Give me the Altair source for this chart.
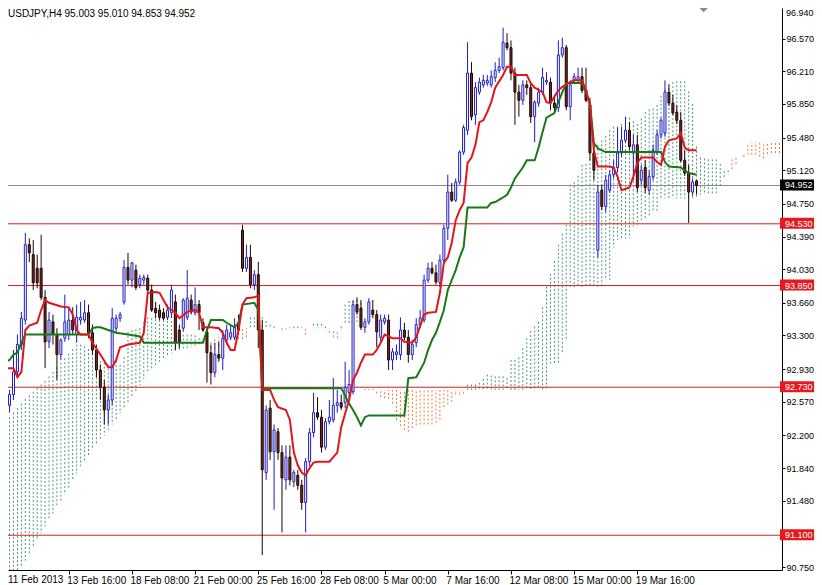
import altair as alt
import pandas as pd

# ---------------- data ----------------
title_text = "USDJPY,H4  95.003 95.010 94.853 94.952"

opens = [92.72, 92.53, 92.65, 92.90, 93.20, 93.47, 94.30, 94.19, 94.04, 94.04,
         93.72, 93.23, 93.45, 93.31, 93.09, 93.27, 93.31, 93.47, 93.31, 93.47,
         93.47, 93.55, 93.33, 93.14, 92.92, 92.73, 92.48, 92.59, 93.38, 93.49,
         93.67, 94.05, 93.91, 94.02, 93.86, 93.91, 93.93, 93.80, 93.60, 93.58,
         93.55, 93.50, 93.55, 93.67, 93.36, 93.38, 93.50, 93.69, 93.55, 93.64,
         93.44, 93.34, 93.11, 92.89, 93.09, 93.05, 93.25, 93.28, 93.28, 93.44,
         94.46, 94.04, 94.16, 93.86, 93.97, 93.36, 91.79, 92.50, 92.02, 92.24,
         92.01, 91.71, 91.96, 91.69, 91.76, 91.65, 91.46, 91.91, 92.23, 92.45,
         92.40, 92.07, 92.35, 92.37, 92.53, 92.56, 92.56, 92.67, 92.68, 93.64,
         93.60, 93.39, 93.45, 93.58, 93.53, 93.28, 93.45, 93.47, 93.03, 93.09,
         93.09, 93.36, 93.28, 93.09, 93.22, 93.42, 93.47, 93.91, 94.04, 93.99,
         93.88, 94.13, 94.48, 94.88, 94.79, 94.99, 95.32, 95.56, 96.19, 95.73,
         95.98, 96.06, 96.08, 96.06, 96.14, 96.22, 96.25, 96.52, 96.47, 96.19,
         95.98, 95.89, 96.06, 96.03, 95.71, 95.86, 95.98, 96.09, 96.09, 95.86,
         95.81, 96.39, 96.47, 95.82, 96.11, 96.11, 96.15, 96.00, 95.84, 95.31,
         94.24, 94.90, 94.72, 94.90, 95.07, 95.15, 95.31, 95.45, 95.56, 95.31,
         95.40, 95.01, 95.15, 94.90, 95.05, 95.32, 95.51, 95.53, 95.98, 95.86,
         95.76, 95.67, 95.23, 95.09, 94.88, 95.003]
highs = [92.81, 92.70, 93.14, 93.31, 93.56, 94.43, 94.37, 94.35, 94.19, 94.41,
         93.80, 93.56, 93.53, 93.38, 93.27, 93.75, 93.60, 93.61, 93.64, 93.67,
         93.69, 93.64, 93.42, 93.20, 92.98, 92.81, 92.65, 93.60, 93.53, 93.56,
         94.13, 94.21, 94.11, 94.08, 93.97, 93.97, 93.97, 93.86, 93.67, 93.64,
         93.60, 93.64, 93.86, 93.75, 93.42, 93.71, 94.02, 93.75, 93.83, 93.69,
         93.49, 93.38, 93.20, 93.22, 93.23, 93.36, 93.42, 93.42, 93.49, 93.53,
         94.52, 94.30, 94.30, 94.02, 94.11, 93.47, 92.53, 92.59, 92.32, 92.28,
         92.09, 92.09, 92.09, 91.82, 91.82, 91.71, 91.95, 92.28, 92.67, 92.62,
         92.48, 92.39, 92.59, 92.83, 92.70, 92.65, 93.01, 92.92, 93.69, 93.72,
         93.69, 93.49, 93.71, 93.69, 93.58, 93.53, 93.53, 93.53, 93.16, 93.20,
         93.50, 93.44, 93.36, 93.25, 93.49, 93.58, 93.97, 94.10, 94.11, 94.08,
         94.19, 94.52, 95.07, 94.98, 95.03, 95.34, 95.62, 96.53, 96.31, 96.09,
         96.14, 96.17, 96.17, 96.22, 96.31, 96.36, 96.69, 96.63, 96.55, 96.25,
         96.06, 96.11, 96.11, 96.08, 95.89, 96.03, 96.25, 96.20, 96.14, 95.95,
         96.55, 96.58, 96.50, 96.11, 96.19, 96.25, 96.25, 96.25, 95.92, 95.40,
         94.96, 94.96, 95.07, 95.12, 95.23, 95.59, 95.60, 95.71, 95.65, 95.51,
         95.51, 95.18, 95.23, 95.12, 95.40, 95.56, 95.70, 96.11, 96.06, 95.95,
         95.84, 95.76, 95.34, 95.18, 95.03, 95.010]
lows = [92.37, 92.45, 92.59, 92.83, 93.14, 93.42, 94.11, 93.80, 93.82, 93.69,
        92.94, 93.16, 93.20, 92.81, 93.03, 93.23, 93.25, 93.31, 93.22, 93.42,
        93.44, 93.27, 93.09, 92.84, 92.59, 92.32, 92.32, 92.53, 93.34, 93.45,
        93.64, 93.86, 93.83, 93.80, 93.82, 93.86, 93.78, 93.56, 93.49, 93.47,
        93.47, 93.47, 93.49, 93.14, 93.16, 93.34, 93.47, 93.53, 93.52, 93.36,
        93.34, 92.78, 92.76, 92.84, 93.01, 92.92, 93.20, 93.25, 93.25, 93.34,
        94.00, 94.00, 93.82, 93.80, 93.16, 90.88, 91.71, 91.93, 91.38, 91.93,
        91.13, 91.60, 91.65, 91.63, 91.60, 91.38, 91.13, 91.86, 92.18, 92.37,
        92.01, 92.04, 92.32, 92.34, 92.45, 92.48, 92.50, 92.61, 92.65, 93.53,
        93.36, 93.33, 93.42, 93.49, 93.17, 93.23, 93.42, 92.92, 92.92, 93.03,
        93.03, 93.25, 93.00, 93.03, 93.17, 93.38, 93.44, 93.88, 93.97, 93.86,
        93.83, 94.11, 94.35, 94.77, 94.77, 94.96, 95.29, 95.51, 95.67, 95.62,
        95.95, 96.03, 96.05, 96.03, 96.09, 96.19, 96.22, 96.44, 96.11, 95.62,
        95.71, 95.84, 95.95, 95.64, 95.43, 95.82, 95.95, 96.06, 95.78, 95.76,
        95.76, 96.36, 95.78, 95.67, 96.08, 96.09, 95.97, 95.87, 95.23, 95.01,
        94.16, 94.68, 94.66, 94.87, 95.03, 95.10, 95.27, 95.42, 95.34, 95.01,
        94.88, 94.96, 94.87, 94.85, 95.01, 95.29, 95.47, 95.49, 95.83, 95.73,
        95.63, 95.21, 95.06, 94.54, 94.84, 94.853]
closes = [92.57, 92.65, 92.90, 93.20, 93.49, 94.30, 94.21, 93.88, 93.88, 93.72,
          93.23, 93.47, 93.31, 93.09, 93.25, 93.45, 93.47, 93.36, 93.50, 93.50,
          93.55, 93.33, 93.14, 92.92, 92.73, 92.48, 92.59, 93.49, 93.49, 93.53,
          94.05, 93.91, 94.10, 93.83, 93.93, 93.94, 93.80, 93.58, 93.55, 93.50,
          93.49, 93.58, 93.80, 93.22, 93.22, 93.69, 93.71, 93.56, 93.64, 93.55,
          93.36, 93.11, 92.89, 93.09, 93.05, 93.27, 93.36, 93.33, 93.39, 93.36,
          94.04, 94.16, 93.86, 93.97, 93.36, 91.82, 92.48, 92.02, 92.26, 92.01,
          91.73, 91.96, 91.71, 91.79, 91.65, 91.46, 91.91, 92.23, 92.45, 92.40,
          92.07, 92.35, 92.40, 92.53, 92.56, 92.51, 92.73, 92.76, 93.64, 93.56,
          93.39, 93.45, 93.67, 93.53, 93.34, 93.47, 93.49, 93.03, 93.12, 93.12,
          93.36, 93.28, 93.09, 93.20, 93.42, 93.49, 93.91, 94.04, 93.99, 93.89,
          94.13, 94.48, 94.88, 94.79, 94.99, 95.32, 95.59, 96.19, 95.71, 96.03,
          96.09, 96.11, 96.11, 96.15, 96.22, 96.26, 96.53, 96.47, 96.19, 95.98,
          95.89, 96.06, 96.03, 95.71, 95.87, 95.98, 96.14, 96.11, 95.86, 95.81,
          96.39, 96.47, 95.82, 96.06, 96.15, 96.15, 96.00, 95.89, 95.31, 95.12,
          94.88, 94.72, 95.01, 95.07, 95.15, 95.31, 95.45, 95.56, 95.38, 95.40,
          94.93, 95.12, 94.93, 95.05, 95.34, 95.51, 95.67, 95.98, 95.86, 95.75,
          95.67, 95.23, 95.09, 94.88, 94.99, 94.952]

# Tenkan-sen (red) breakpoints
tenkan_bar = [0, 2, 3, 4, 5, 6, 8, 9, 10, 11, 14, 16, 17, 18, 19, 21, 22, 24, 26, 27,
              28, 29, 31, 34, 35, 36, 38, 39, 40, 41, 43, 44, 46, 48, 49, 50, 52, 54, 55, 56,
              57, 58, 59, 60, 61, 63, 64, 65, 67, 68, 69, 71, 72, 73, 74, 75, 76, 77, 78, 79,
              82, 83, 84, 85, 86, 87, 88, 89, 90, 91, 93, 94, 95, 96, 98, 100, 101, 103, 104, 106,
              107, 109, 110, 111, 112, 113, 114, 115, 116, 117, 118, 119, 120, 121, 122, 123, 124, 126, 127, 128,
              129, 132, 133, 134, 136, 137, 138, 139, 140, 141, 143, 144, 146, 147, 148, 149, 150, 153, 154, 155,
              156, 158, 159, 160, 161, 164, 165, 166, 167, 168, 170, 171, 172, 173, 175]
tenkan_val = [92.94, 92.94, 92.84, 92.90, 93.36, 93.41, 93.44, 93.58, 93.69, 93.66,
              93.62, 93.61, 93.53, 93.36, 93.31, 93.31, 93.22, 93.09, 92.95, 92.95,
              93.03, 93.17, 93.20, 93.22, 93.33, 93.77, 93.78, 93.77, 93.69, 93.61,
              93.55, 93.49, 93.56, 93.58, 93.55, 93.39, 93.39, 93.38, 93.33, 93.22,
              93.14, 93.14, 93.36, 93.64, 93.71, 93.72, 93.74, 92.70, 92.70, 92.59,
              92.51, 92.48, 92.37, 92.01, 91.87, 91.79, 91.76, 91.84, 91.90, 91.91,
              91.91, 91.96, 92.01, 92.29, 92.44, 92.59, 92.81, 92.89, 93.00, 93.09,
              93.09, 93.14, 93.22, 93.31, 93.27, 93.27, 93.23, 93.22, 93.28, 93.53,
              93.55, 93.56, 93.77, 94.10, 94.16, 94.32, 94.57, 94.68, 94.76, 95.20,
              95.26, 95.40, 95.65, 95.67, 95.76, 95.87, 96.03, 96.17, 96.26, 96.26,
              96.17, 96.17, 96.08, 96.03, 95.98, 95.87, 95.86, 95.93, 96.00, 96.04,
              96.09, 96.11, 96.11, 96.00, 95.83, 95.34, 95.16, 95.16, 95.15, 95.05,
              94.90, 94.93, 95.05, 95.20, 95.26, 95.26, 95.21, 95.18, 95.38, 95.45,
              95.47, 95.53, 95.37, 95.34, 95.34]

# Kijun-sen (green) breakpoints
kijun_bar = [0, 1, 2, 3, 4, 5, 21, 22, 23, 24, 26, 28, 31, 34, 35, 50, 51, 52, 55, 56,
             58, 59, 60, 63, 64, 65, 85, 86, 87, 88, 89, 90, 91, 92, 101, 102, 104, 106, 107, 108,
             109, 110, 111, 112, 113, 114, 115, 116, 117, 122, 123, 124, 126, 127, 128, 129, 131, 132, 134, 135,
             136, 137, 139, 140, 141, 142, 146, 147, 148, 149, 150, 152, 166, 167, 168, 171, 172, 173, 175]
kijun_val = [93.01, 93.03, 93.09, 93.11, 93.22, 93.31, 93.31, 93.38, 93.39, 93.39,
             93.36, 93.33, 93.31, 93.29, 93.22, 93.22, 93.36, 93.47, 93.47, 93.44,
             93.39, 93.44, 93.64, 93.66, 93.58, 92.72, 92.72, 92.64, 92.55, 92.48,
             92.40, 92.31, 92.40, 92.42, 92.42, 92.83, 92.84, 93.00, 93.14, 93.25,
             93.33, 93.45, 93.58, 93.80, 93.91, 94.02, 94.16, 94.27, 94.71, 94.71,
             94.76, 94.77, 94.82, 94.85, 94.93, 95.03, 95.15, 95.23, 95.23, 95.37,
             95.54, 95.70, 95.75, 95.87, 95.98, 96.08, 96.08, 95.98, 95.86, 95.42,
             95.36, 95.32, 95.32, 95.21, 95.16, 95.15, 95.12, 95.09, 95.07]

# Senkou span A / B, one value per bar (0 .. 196)
span_a = [92.37, 92.40, 92.45, 92.50, 92.55, 92.60, 92.64, 92.68, 92.72, 92.76,
          92.80, 92.85, 92.90, 92.95, 93.00, 93.05, 93.10, 93.15, 93.20, 93.20,
          93.18, 93.15, 93.10, 93.06, 93.02, 93.00, 92.98, 92.99, 93.02, 92.98,
          93.06, 93.34, 93.36, 93.37, 93.38, 93.45, 93.50, 93.49, 93.48, 93.47,
          93.47, 93.46, 93.46, 93.42, 93.34, 93.31, 93.31, 93.31, 93.30, 93.27,
          93.24, 93.20, 93.16, 93.15, 93.18, 93.25, 93.25, 93.26, 93.25, 93.26,
          93.26, 93.28, 93.50, 93.50, 93.50, 93.50, 93.46, 93.42, 93.40, 93.38,
          93.36, 93.37, 93.39, 93.40, 93.40, 93.39, 93.31, 93.38, 93.43, 93.43,
          93.43, 93.40, 93.33, 93.28, 93.27, 93.40, 93.64, 93.68, 93.68, 93.69,
          93.66, 92.71, 92.71, 92.71, 92.66, 92.62, 92.61, 92.60, 92.55, 92.37,
          92.30, 92.26, 92.24, 92.28, 92.31, 92.32, 92.32, 92.32, 92.32, 92.34,
          92.37, 92.51, 92.54, 92.57, 92.65, 92.65, 92.66, 92.76, 92.76, 92.76,
          92.78, 92.82, 92.87, 92.86, 92.85, 92.85, 92.85, 92.83, 93.03, 93.03,
          93.06, 93.16, 93.27, 93.35, 93.40, 93.45, 93.61, 93.84, 93.98, 94.12,
          94.30, 94.42, 94.52, 94.96, 94.99, 95.06, 95.18, 95.19, 95.24, 95.32,
          95.40, 95.45, 95.50, 95.56, 95.60, 95.60, 95.63, 95.66, 95.70, 95.66,
          95.63, 95.69, 95.76, 95.79, 95.80, 95.84, 95.94, 96.01, 96.07, 96.09,
          96.10, 96.10, 96.10, 95.99, 95.85, 95.38, 95.26, 95.25, 95.24, 95.24,
          95.24, 95.19, 95.11, 95.12, 95.13, 95.19, 95.26, 95.29, 95.29, 95.29,
          95.29, 95.27, 95.25, 95.30, 95.31, 95.31, 95.31]
span_b = [90.50, 90.55, 90.62, 90.70, 90.76, 90.82, 90.90, 90.98, 91.05, 91.12,
          91.20, 91.27, 91.34, 91.41, 91.48, 91.55, 91.62, 91.70, 91.78, 91.86,
          91.92, 91.98, 92.04, 92.10, 92.15, 92.20, 92.26, 92.32, 92.38, 92.44,
          92.50, 92.56, 92.62, 92.68, 92.75, 92.82, 92.88, 92.93, 92.97, 93.01,
          93.05, 93.08, 93.10, 93.12, 93.14, 93.15, 93.16, 93.17, 93.18, 93.19,
          93.20, 93.22, 93.24, 93.26, 93.28, 93.30, 93.38, 93.38, 93.38, 93.38,
          93.38, 93.38, 93.38, 93.38, 93.38, 93.38, 93.38, 93.38, 93.38, 93.38,
          93.38, 93.38, 93.38, 93.38, 93.38, 93.38, 93.38, 93.38, 93.38, 93.38,
          93.38, 93.38, 93.38, 93.36, 93.36, 93.36, 93.42, 93.42, 93.42, 93.42,
          93.42, 92.70, 92.70, 92.70, 92.70, 92.70, 92.70, 92.70, 92.70, 92.70,
          92.70, 92.70, 92.70, 92.70, 92.70, 92.70, 92.70, 92.70, 92.70, 92.70,
          92.70, 92.70, 92.70, 92.70, 92.70, 92.70, 92.70, 92.70, 92.70, 92.70,
          92.70, 92.70, 92.70, 92.70, 92.70, 92.70, 92.70, 92.70, 92.70, 92.70,
          92.70, 92.70, 92.70, 92.70, 92.70, 92.70, 92.70, 92.70, 92.98, 92.98,
          92.98, 93.11, 93.25, 93.83, 93.83, 93.83, 93.83, 93.83, 93.83, 93.83,
          93.83, 93.83, 93.91, 93.91, 94.27, 94.35, 94.35, 94.37, 94.37, 94.50,
          94.52, 94.57, 94.59, 94.60, 94.65, 94.67, 94.81, 94.81, 94.81, 94.81,
          94.81, 94.81, 94.81, 94.81, 94.81, 94.81, 94.85, 94.85, 94.85, 94.85,
          94.86, 94.93, 95.04, 95.07, 95.26, 95.26, 95.26, 95.26, 95.40, 95.43,
          95.43, 95.43, 95.43, 95.43, 95.43, 95.43, 95.43]

level_prices = [94.530, 93.850, 92.730, 91.100]
level_labels = ["94.530", "93.850", "92.730", "91.100"]
last_price = 94.952
last_label = "94.952"

x_tick_bars = [16, 32, 48, 64, 80, 96, 112, 128, 144, 160]
x_tick_labels = ["13 Feb 16:00", "18 Feb 08:00", "21 Feb 00:00",
                 "25 Feb 16:00", "28 Feb 08:00", "5 Mar 00:00", "7 Mar 16:00",
                 "12 Mar 08:00", "15 Mar 00:00", "19 Mar 16:00"]
first_label = "11 Feb 2013"
y_tick_values = [96.57, 96.21, 95.85, 95.48, 95.12, 94.75, 94.39, 94.03,
                 93.66, 93.30, 92.93, 92.57, 92.20, 91.84, 91.48, 90.75]
top_label = "96.940"

# ---------------- styling ----------------
FONT = "Liberation Sans"
BULL = "#1C1CC4"
BEAR_FILL = "#7A2A22"
BEAR_LINE = "#1A0505"
TENKAN = "#E3151C"
KIJUN = "#177A17"
LEVEL = "#D21F1F"
CLOUD_UP = "#4A9674"
CLOUD_DN = "#E87A3A"

# The page keeps an 8px margin and only 806px of width, so the plot window
# starts two bars (8px) and ~0.09 price units in from the original's edge.
W, H = 774, 562
RIGHT = 32
X_DOMAIN = [1.875, 195.375]
Y_DOMAIN = [90.717, 96.907]

# ---------------- frames ----------------
candles = pd.DataFrame({"bar": list(range(len(opens))), "open": opens, "high": highs,
                        "low": lows, "close": closes})
up = candles[candles["close"] >= candles["open"]]
down = candles[candles["close"] < candles["open"]]

tenkan = pd.DataFrame({"bar": tenkan_bar, "v": tenkan_val})
kijun = pd.DataFrame({"bar": kijun_bar, "v": kijun_val})
cloud = pd.DataFrame({"bar": list(range(len(span_a))), "a": span_a, "b": span_b})
cloud_up = cloud[cloud["a"] >= cloud["b"]]
cloud_dn = cloud[cloud["a"] < cloud["b"]]

levels = pd.DataFrame({"p": level_prices, "label": level_labels})
last = pd.DataFrame({"p": [last_price], "label": [last_label]})

label_expr = ""
for b, l in zip(x_tick_bars, x_tick_labels):
    label_expr += f"datum.value == {b} ? '{l}' : "
label_expr += "''"

x_scale = alt.Scale(domain=X_DOMAIN, nice=False, zero=False)
y_scale = alt.Scale(domain=Y_DOMAIN, nice=False, zero=False)

x_axis = alt.Axis(values=x_tick_bars, labelExpr=label_expr, labelAlign="left",
                  labelBaseline="top", labelPadding=1, tickSize=4, grid=False,
                  title=None, labelFont=FONT, labelFontSize=10, labelColor="black",
                  domainColor="black", tickColor="black", labelFlush=False,
                  labelOverlap=False, labelOffset=-2)
y_axis = alt.Axis(orient="right", values=y_tick_values, format=".3f", tickSize=3,
                  labelPadding=1, grid=False, title=None, labelFont=FONT,
                  labelFontSize=9, labelColor="black", domainColor="black",
                  tickColor="black", labelOverlap=False, labelFlush=False)


def Xq(field="bar:Q"):
    return alt.X(field, scale=x_scale, axis=x_axis)


def Yq(field):
    return alt.Y(field, scale=y_scale, axis=y_axis)


cloud_up_layer = alt.Chart(cloud_up).mark_rule(
    strokeDash=[2, 2], strokeWidth=1, clip=True, color=CLOUD_UP).encode(
    x=Xq(), y=Yq("a:Q"), y2="b:Q")
cloud_dn_layer = alt.Chart(cloud_dn).mark_rule(
    strokeDash=[2, 2], strokeWidth=1, clip=True, color=CLOUD_DN).encode(
    x=Xq(), y=Yq("a:Q"), y2="b:Q")

level_layer = alt.Chart(levels).mark_rule(color=LEVEL, strokeWidth=1).encode(y=Yq("p:Q"))
last_layer = alt.Chart(last).mark_rule(color="#8A8A8A", strokeWidth=1).encode(y=Yq("p:Q"))

wick_up = alt.Chart(up).mark_rule(strokeWidth=1, color=BULL, clip=True).encode(
    x=Xq(), y=Yq("low:Q"), y2="high:Q")
wick_dn = alt.Chart(down).mark_rule(strokeWidth=1, color=BEAR_LINE, clip=True).encode(
    x=Xq(), y=Yq("low:Q"), y2="high:Q")
body_up = alt.Chart(up).mark_bar(size=2, strokeWidth=1, fill="white", stroke=BULL,
                                 clip=True).encode(x=Xq(), y=Yq("open:Q"), y2="close:Q")
body_dn = alt.Chart(down).mark_bar(size=2, strokeWidth=1, fill=BEAR_FILL, stroke=BEAR_LINE,
                                   clip=True).encode(x=Xq(), y=Yq("open:Q"), y2="close:Q")

kijun_layer = alt.Chart(kijun).mark_line(color=KIJUN, strokeWidth=2, clip=True).encode(
    x=Xq(), y=Yq("v:Q"))
tenkan_layer = alt.Chart(tenkan).mark_line(color=TENKAN, strokeWidth=2, clip=True).encode(
    x=Xq(), y=Yq("v:Q"))

level_box = alt.Chart(levels).mark_rect(yOffset=-6, y2Offset=5, color="#E8191E").encode(
    x=alt.value(W - 2), x2=alt.value(W + RIGHT), y=Yq("p:Q"), y2="p:Q")
last_box = alt.Chart(last).mark_rect(yOffset=-6, y2Offset=5, color="black").encode(
    x=alt.value(W - 2), x2=alt.value(W + RIGHT), y=Yq("p:Q"), y2="p:Q")
tag_text = alt.Chart(pd.concat([levels, last])).mark_text(
    align="left", baseline="middle", color="white", font=FONT, fontSize=9).encode(
    x=alt.value(W + 3), y=Yq("p:Q"), text="label:N")

top_text = alt.Chart(pd.DataFrame({"t": [top_label]})).mark_text(
    align="left", baseline="top", color="black", font=FONT, fontSize=9).encode(
    x=alt.value(W + 4), y=alt.value(1), text="t:N")
first_text = alt.Chart(pd.DataFrame({"t": [first_label]})).mark_text(
    align="left", baseline="top", color="black", font=FONT, fontSize=10).encode(
    x=alt.value(0), y=alt.value(H + 5), text="t:N")

title_layer = alt.Chart(pd.DataFrame({"t": [title_text]})).mark_text(
    align="left", baseline="top", font=FONT, fontSize=10, color="black").encode(
    x=alt.value(0), y=alt.value(1), text="t:N")

marker_layer = alt.Chart(pd.DataFrame({"bar": [176.8], "p": [Y_DOMAIN[1]]})).mark_point(
    shape="diamond", filled=True, size=70, color="#7D8C9C", opacity=1).encode(
    x=Xq(), y=Yq("p:Q"))

chart = alt.layer(
    cloud_up_layer, cloud_dn_layer, level_layer, last_layer, wick_up, wick_dn,
    body_up, body_dn, kijun_layer, tenkan_layer, level_box, last_box, tag_text,
    top_text, first_text, title_layer, marker_layer,
).properties(
    width=W, height=H,
    padding={"left": 0, "top": 0, "right": RIGHT, "bottom": 15},
    autosize=alt.AutoSizeParams(type="none"),
    background="white",
).configure_view(stroke=None)

chart.save("out.html", embed_options={"renderer": "svg", "actions": False})
